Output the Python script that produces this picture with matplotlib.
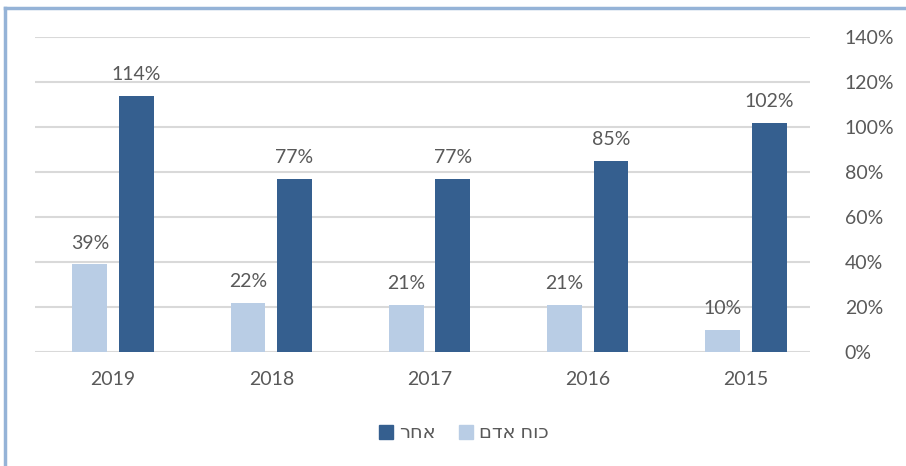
import matplotlib
matplotlib.use("Agg")
import matplotlib.pyplot as plt
from matplotlib.lines import Line2D
from matplotlib.patches import Patch
import numpy as np

years = ["2019", "2018", "2017", "2016", "2015"]
manpower = [39, 22, 21, 21, 10]   # כוח אדם
other = [114, 77, 77, 85, 102]     # אחר
yticks = [0, 20, 40, 60, 80, 100, 120, 140]

light = "#b9cde5"
dark = "#355f8f"
txt = "#595959"
fam = ["Lato", "DejaVu Sans"]
fs = 14

W, H = 906, 466
fig = plt.figure(figsize=(W/100, H/100), dpi=100)
ax = fig.add_axes([35/W, 114/H, 775/W, 315/H])

x = np.arange(len(years))
bw = 0.22
off = 0.147
ax.bar(x - off, manpower, bw, color=light, zorder=3)
ax.bar(x + off, other, bw, color=dark, zorder=3)

for xi, v in zip(x, manpower):
    ax.text(xi - off, v + 5.5, f"{v}%", ha="center", va="bottom", fontsize=fs, color=txt, family=fam)
for xi, v in zip(x, other):
    ax.text(xi + off, v + 5.5, f"{v}%", ha="center", va="bottom", fontsize=fs, color=txt, family=fam)

ax.set_xlim(-0.493, 4.404)
ax.set_ylim(0, 140)
ax.set_yticks(yticks)
ax.set_yticklabels([f"{t}%" for t in yticks], family=fam, fontsize=fs, color=txt)
ax.yaxis.tick_right()
ax.tick_params(axis="y", length=0, pad=25)
ax.set_xticks(x)
ax.set_xticklabels(years, family=fam, fontsize=fs, color=txt)
ax.tick_params(axis="x", length=0, pad=14)
ax.grid(axis="y", color="#d9d9d9", linewidth=1.5, zorder=0)
for s in ax.spines.values():
    s.set_visible(False)

handles = [Patch(color=dark, label="רחא"), Patch(color=light, label="םדא חוכ")]
leg = fig.legend(handles=handles, loc="center", bbox_to_anchor=(464/W, 1 - 433/H), ncol=2,
                 frameon=False, prop={"family": fam, "size": fs}, handlelength=0.72,
                 handleheight=0.72, handletextpad=0.3, columnspacing=1.2)
for t in leg.get_texts():
    t.set_color(txt)

border = "#95b3d7"
fig.add_artist(Line2D([5/W, 5/W], [0, 1 - 8/H], color=border, linewidth=2.5, transform=fig.transFigure))
fig.add_artist(Line2D([5/W, 1], [1 - 8/H, 1 - 8/H], color=border, linewidth=2.5, transform=fig.transFigure))

fig.savefig("out.png", dpi=100)
